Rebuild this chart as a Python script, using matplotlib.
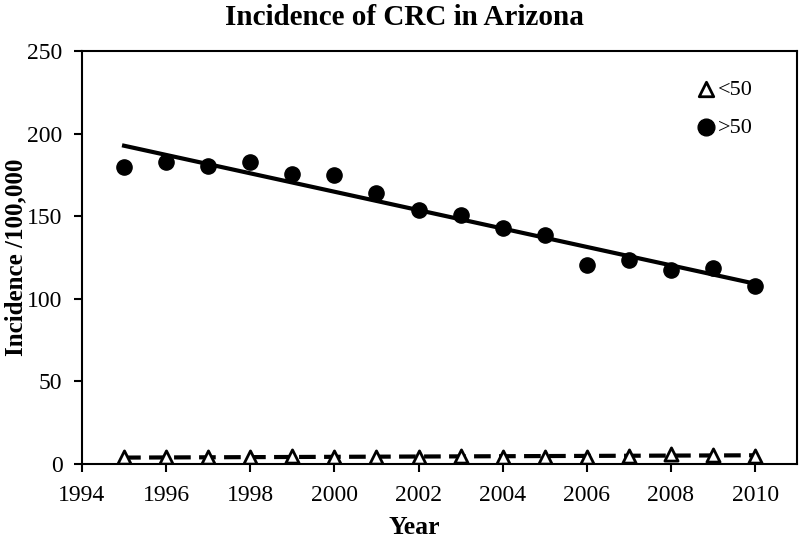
import numpy as np
import matplotlib
matplotlib.use("Agg")
import matplotlib.pyplot as plt

plt.rcParams['font.family'] = ['Liberation Serif', 'DejaVu Serif']

years = np.arange(1995, 2011)
under50 = [4, 4, 4, 4, 5, 4, 4.5, 4.5, 5, 4, 4.5, 4.5, 5, 6, 5.5, 5]
over50 = [180, 183, 180.5, 183, 175.5, 175, 164, 154, 151, 143, 138.5, 120.5, 123.5, 117.5, 118.5, 107.5]
xticks = list(range(1994, 2011, 2))
yticks = [0, 50, 100, 150, 200, 250]

fig = plt.figure(figsize=(8, 5.38), dpi=100)
ax = fig.add_axes([0.1025, 0.1375, 0.894, 0.7675])

ax.scatter(years, under50, marker='^', s=90, facecolors='white', edgecolors='black', linewidths=2, zorder=3, label='<50')
ax.scatter(years, over50, marker='o', s=120, color='black', zorder=3, label='>50')

for vals, ls in [(under50, (0, (4, 2))), (over50, '-')]:
    m, b = np.polyfit(years, vals, 1)
    ax.plot(years, m * years + b, color='black', lw=3, ls=ls, zorder=2)

ax.set_xlim(1994, 2011)
ax.set_ylim(0, 250)
ax.set_xticks(xticks)
ax.set_yticks(yticks)
ax.tick_params(direction='out', length=6, width=1.5, labelsize=17)
ax.tick_params(axis='x', pad=9)
ax.tick_params(axis='y', pad=8)
for s in ax.spines.values():
    s.set_linewidth(1.5)

fig.text(0.506, 0.968, 'Incidence of CRC in Arizona', fontsize=21, fontweight='bold',
         ha='center', va='center')
ax.set_xlabel('Year', fontsize=18.5, fontweight='bold', va='center')
ax.xaxis.set_label_coords(0.464, -0.153)
ax.set_ylabel('Incidence /100,000', fontsize=18, fontweight='bold', va='center')
ax.yaxis.set_label_coords(-0.092, 0.5)

ax.legend(loc='upper right', frameon=False, fontsize=16, handletextpad=-0.45,
          borderaxespad=0.8, labelspacing=0.8, markerscale=1.1,
          bbox_to_anchor=(0.975, 0.997))

fig.savefig('out.png', dpi=100)
